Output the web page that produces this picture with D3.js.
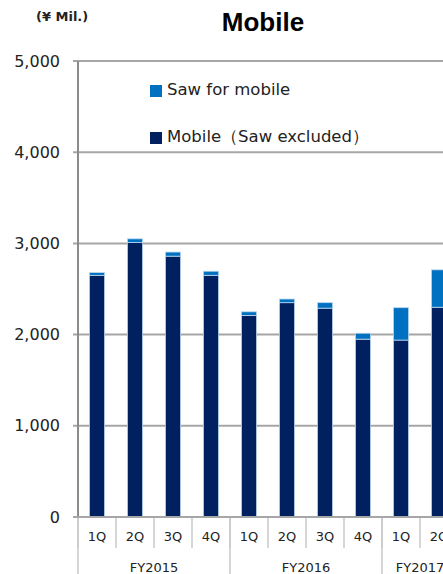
<!DOCTYPE html>
<html>
<head>
<meta charset="utf-8">
<script src="https://cdn.jsdelivr.net/npm/d3@7"></script>
<style>
  body { margin: 0; background: #fff; }
  text { font-family: "DejaVu Sans", Verdana, sans-serif; fill: #222; }
</style>
</head>
<body>
<div id="chart"></div>
<script>
// quarters and fiscal years
var quarters = ["1Q", "2Q", "3Q", "4Q", "1Q", "2Q", "3Q", "4Q", "1Q", "2Q"];
var years = ["FY2015", "FY2016", "FY2017"];
var yearSpan = [4, 4, 2];
// series values (yen millions)
var mobileExSaw = [2650, 3010, 2860, 2650, 2210, 2350, 2290, 1950, 1940, 2300];
var sawMobile   = [30, 40, 45, 45, 40, 40, 60, 65, 355, 410];
var yTicks = [0, 1000, 2000, 3000, 4000, 5000];

var W = 443, H = 574;
var margin = {top: 61, left: 78, bottom: 57};
var slotW = 38;

var svg = d3.select("#chart").append("svg")
    .attr("width", W)
    .attr("height", H);

var x = d3.scaleBand()
    .domain(d3.range(quarters.length))
    .range([margin.left, margin.left + slotW * quarters.length])
    .paddingInner(0.6)
    .paddingOuter(0.3);

var y = d3.scaleLinear()
    .domain([0, 5000])
    .range([H - margin.bottom, margin.top]);

// gridlines
svg.append("g")
  .selectAll("line")
  .data(yTicks)
  .enter().append("line")
    .attr("x1", margin.left - 5)
    .attr("x2", W)
    .attr("y1", function(d) { return y(d); })
    .attr("y2", function(d) { return y(d); })
    .attr("stroke", "#a6a6a6")
    .attr("stroke-width", 2);

// y labels
svg.append("g")
  .selectAll("text")
  .data(yTicks)
  .enter().append("text")
    .attr("x", 60)
    .attr("y", function(d) { return y(d); })
    .attr("dy", "0.35em")
    .attr("text-anchor", "end")
    .style("font-size", "16px")
    .text(d3.format(","));

// stacked bars
var stack = d3.stack().keys(["dark", "saw"]);
var rows = quarters.map(function(q, i) {
  return {i: i, dark: mobileExSaw[i], saw: sawMobile[i]};
});
var layers = stack(rows);
var colors = {dark: "#002060", saw: "#0070c0"};

svg.append("g")
  .selectAll("g")
  .data(layers)
  .enter().append("g")
    .attr("fill", function(d) { return colors[d.key]; })
  .selectAll("rect")
  .data(function(d) { return d; })
  .enter().append("rect")
    .attr("x", function(d) { return x(d.data.i); })
    .attr("width", x.bandwidth())
    .attr("y", function(d) { return y(d[1]); })
    .attr("height", function(d) { return y(d[0]) - y(d[1]); })
    .attr("stroke", "#bdd7ee")
    .attr("stroke-width", 0.8);

// left axis line
svg.append("line")
    .attr("x1", margin.left).attr("x2", margin.left)
    .attr("y1", y(5000)).attr("y2", y(0))
    .attr("stroke", "#8c8c8c")
    .attr("stroke-width", 2);

// zero line on top
svg.append("line")
    .attr("x1", margin.left - 5).attr("x2", W)
    .attr("y1", y(0)).attr("y2", y(0))
    .attr("stroke", "#a6a6a6")
    .attr("stroke-width", 2);

// category axis
var base = y(0) + 1;
var cat = svg.append("g");
cat.selectAll("line.q")
  .data(d3.range(quarters.length + 1))
  .enter().append("line")
    .attr("x1", function(i) { return margin.left + i * slotW; })
    .attr("x2", function(i) { return margin.left + i * slotW; })
    .attr("y1", base)
    .attr("y2", base + 30)
    .attr("stroke", "#c8c8c8")
    .attr("stroke-width", 1.5);

var cum = [0];
yearSpan.forEach(function(s, k) { cum.push(cum[k] + s); });
cat.selectAll("line.fy")
  .data(cum)
  .enter().append("line")
    .attr("x1", function(i) { return margin.left + i * slotW; })
    .attr("x2", function(i) { return margin.left + i * slotW; })
    .attr("y1", base)
    .attr("y2", H)
    .attr("stroke", "#c8c8c8")
    .attr("stroke-width", 1.5);

cat.selectAll("text.q")
  .data(quarters)
  .enter().append("text")
    .attr("x", function(d, i) { return x(i) + x.bandwidth() / 2; })
    .attr("y", 536)
    .attr("dy", "0.35em")
    .attr("text-anchor", "middle")
    .style("font-size", "13px")
    .text(function(d) { return d; });

cat.selectAll("text.fy")
  .data(years)
  .enter().append("text")
    .attr("x", function(d, k) { return margin.left + (cum[k] + yearSpan[k] / 2) * slotW; })
    .attr("y", 567)
    .attr("dy", "0.35em")
    .attr("text-anchor", "middle")
    .style("font-size", "13px")
    .text(function(d) { return d; });

// title + unit
svg.append("text")
    .attr("x", 263).attr("y", 31)
    .attr("text-anchor", "middle")
    .style("font-family", "'Liberation Sans', Arial, sans-serif")
    .style("font-weight", "bold")
    .style("font-size", "26px")
    .style("fill", "#000")
    .text("Mobile");

svg.append("text")
    .attr("x", 36).attr("y", 21)
    .style("font-weight", "bold")
    .style("font-size", "13px")
    .text("(¥ Mil.)");

// legend
var legend = [
  {label: "Saw for mobile", color: colors.saw, y: 90},
  {label: "Mobile（Saw excluded）", color: colors.dark, y: 137}
];
var lg = svg.append("g").selectAll("g")
  .data(legend)
  .enter().append("g");
lg.append("rect")
    .attr("x", 150)
    .attr("y", function(d) { return d.y - 5; })
    .attr("width", 12).attr("height", 12)
    .attr("fill", function(d) { return d.color; });
lg.append("text")
    .attr("x", 167)
    .attr("y", function(d) { return d.y; })
    .attr("dy", "0.3em")
    .style("font-size", "16.5px")
    .text(function(d) { return d.label; });
</script>
</body>
</html>
